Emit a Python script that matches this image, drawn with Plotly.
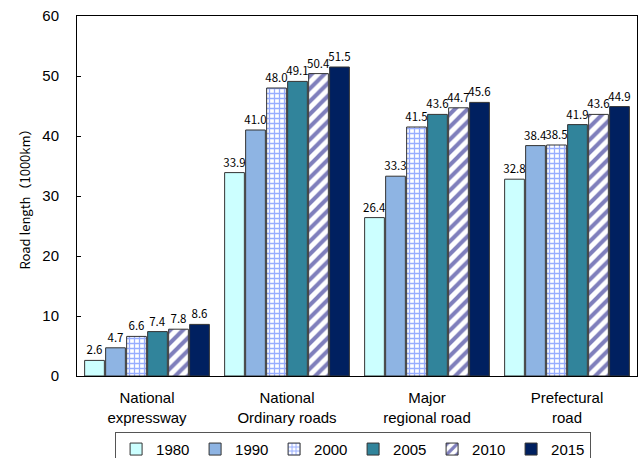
import plotly.graph_objects as go

# Road categories (two-line tick labels)
categories = [
    "National<br>expressway",
    "National<br>Ordinary roads",
    "Major<br>regional road",
    "Prefectural<br>road",
]

# Road length by year, in 1000 km
years = ["1980", "1990", "2000", "2005", "2010", "2015"]
length_1980 = [2.6, 33.9, 26.4, 32.8]
length_1990 = [4.7, 41.0, 33.3, 38.4]
length_2000 = [6.6, 48.0, 41.5, 38.5]
length_2005 = [7.4, 49.1, 43.6, 41.9]
length_2010 = [7.8, 50.4, 44.7, 43.6]
length_2015 = [8.6, 51.5, 45.6, 44.9]

series = [length_1980, length_1990, length_2000, length_2005, length_2010, length_2015]

FONT = "Liberation Sans, Arial, sans-serif"
CJK = "Noto Sans CJK JP, Liberation Sans, sans-serif"
OUTLINE = dict(color="#333333", width=1)

styles = {
    "1980": dict(color="#CCFFFF", line=OUTLINE),
    "1990": dict(color="#8EB4E3", line=OUTLINE),
    "2000": dict(color="#FFFFFF", line=OUTLINE,
                 pattern=dict(shape="+", fgcolor="#2F5BFF", bgcolor="#FFFFFF",
                              size=5, solidity=0.45)),
    "2005": dict(color="#31849B", line=OUTLINE),
    "2010": dict(color="#FFFFFF", line=OUTLINE,
                 pattern=dict(shape="/", fgcolor="#00007A", bgcolor="#FFFFFF",
                              size=9, solidity=0.45)),
    "2015": dict(color="#002060", line=OUTLINE),
}

fig = go.Figure()
for year, values in zip(years, series):
    fig.add_trace(go.Bar(
        x=categories,
        y=values,
        name=year,
        marker=styles[year],
        text=[f"{v:.1f}" for v in values],
        textposition="outside",
        constraintext="none",
        textfont=dict(family=CJK, size=11.5, color="#000000"),
        cliponaxis=False,
    ))

fig.update_layout(
    width=641,
    height=458,
    margin=dict(l=77, r=4, t=16, b=82, autoexpand=False),
    paper_bgcolor="#FFFFFF",
    plot_bgcolor="#FFFFFF",
    barmode="group",
    bargap=0.10,
    bargroupgap=0.06,
    font=dict(family=FONT, size=14, color="#000000"),
    showlegend=True,
    legend=dict(
        orientation="h",
        x=0.068, xanchor="left",
        y=-0.155, yanchor="top",
        bordercolor="#555555",
        borderwidth=1,
        entrywidth=34,
        itemwidth=30,
        font=dict(family=FONT, size=15),
        traceorder="normal",
    ),
)

fig.update_yaxes(
    range=[0, 60],
    dtick=10,
    ticks="inside",
    ticklen=4,
    tickcolor="#000000",
    showline=True,
    linecolor="#000000",
    linewidth=1,
    mirror=True,
    showgrid=False,
    zeroline=False,
    automargin=False,
    ticklabelstandoff=14,
    tickfont=dict(family=FONT, size=15),
    title=dict(text="Road length（1000km）", font=dict(family=CJK, size=13), standoff=8),
)

fig.update_xaxes(
    showline=True,
    linecolor="#000000",
    linewidth=1,
    mirror=True,
    showgrid=False,
    automargin=False,
    ticks="",
    ticklabelstandoff=8,
    tickfont=dict(family=FONT, size=15),
)

fig.write_html("out.html")
